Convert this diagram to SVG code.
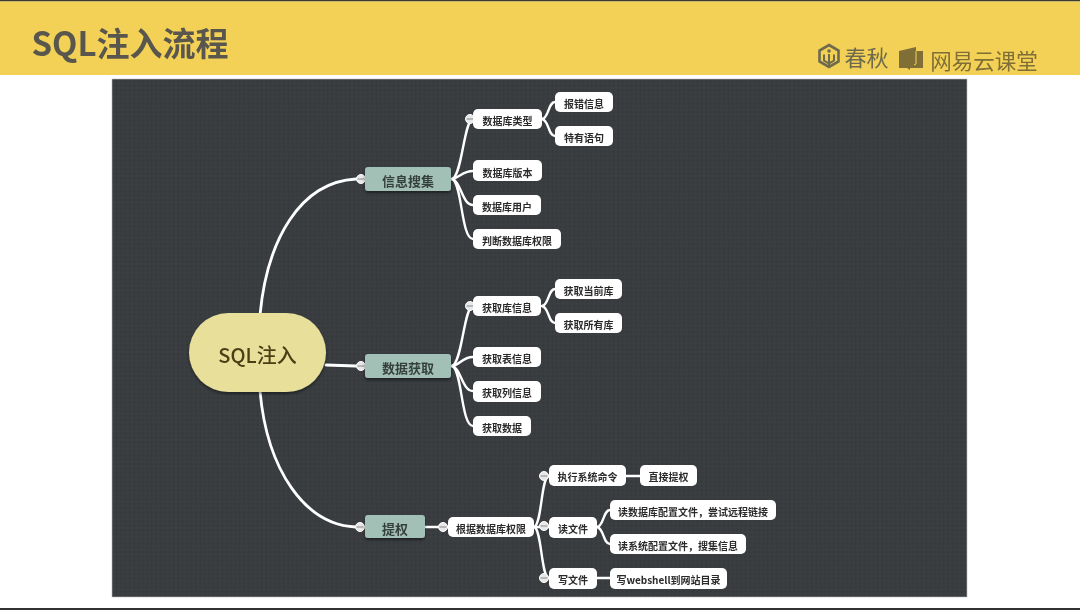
<svg xmlns="http://www.w3.org/2000/svg" width="1080" height="610" viewBox="0 0 1080 610">
<style>
text{font-family:"Noto Sans CJK SC","Noto Sans",sans-serif;text-anchor:middle;dominant-baseline:central}
.leaf rect{fill:#fff}
.leaf text{font-size:10px;fill:#2b2b2b;font-weight:700}
.main rect{fill:#a3c0b7;filter:url(#sh)}
.main text{font-size:13px;fill:#36403d;font-weight:700}
.con path{fill:none;stroke:#fff;stroke-width:2.400;stroke-linecap:round}
.con path.big{stroke-width:2.800}
.col circle{fill:#e8e8e8;stroke:#fff;stroke-width:1}
.col path{stroke:#888;stroke-width:1;fill:none}
</style>
<defs>
<pattern id="dots" width="4.400" height="4.400" patternUnits="userSpaceOnUse"><rect width="4.400" height="4.400" fill="#3a3e41"/><circle cx="2.200" cy="2.200" r="1" fill="#32363a"/></pattern>
<filter id="sh" x="-10%" y="-20%" width="120%" height="150%"><feDropShadow dx="0" dy="2" stdDeviation="1.500" flood-color="#000" flood-opacity=".45"/></filter>
<filter id="soft" x="0" y="0" width="100%" height="100%" filterUnits="userSpaceOnUse" primitiveUnits="userSpaceOnUse"><feGaussianBlur stdDeviation=".45"/></filter>
</defs>
<rect width="1080" height="610" fill="#fff"/>
<g filter="url(#soft)">
<rect width="1080" height="1.500" fill="#3a3a2e"/>
<rect y="1.500" width="1080" height="73.500" fill="#f3d156"/>
<rect y="608" width="1080" height="2" fill="#333"/>
<text x="130" y="42" style="font-size:33px;font-weight:700;fill:#58564d">SQL注入流程</text>
<g id="logo-chunqiu">
<path d="M829 45l9.500 5.500v11l-9.500 5.500-9.500-5.500v-11z" fill="none" stroke="#6f6a4e" stroke-width="2.600"/>
<circle cx="829" cy="51" r="1.800" fill="#6f6a4e"/>
<path d="M829 54v12M824 54.500v6l5 3 5-3v-6" fill="none" stroke="#6f6a4e" stroke-width="2"/>
<text x="866.500" y="56" style="font-size:22px;fill:#6f6a4e">春秋</text>
</g>
<g id="logo-163">
<path d="M899 51l17-4v4h7v17h-13v2l-3-2h-8z" fill="#7f6e35"/>
<path d="M916 51v13l-2 1" fill="none" stroke="#f3d156" stroke-width="1"/>
<text x="984" y="59" style="font-size:21.500px;fill:#7f6e35">网易云课堂</text>
</g>
<rect x="112" y="79" width="855" height="518" fill="url(#dots)" stroke="#bbb" stroke-width=".6"/>
<g id="connectors" class="con">
<path class="big" d="M260 315C267 240 300 182 356 179"/>
<path class="big" d="M326 365L356 366"/>
<path class="big" d="M260 391C267 470 305 525 356 527"/>
<path d="M452 179C462 177 464 119 473 119"/>
<path d="M452 179C460 178 462 171 473 171"/>
<path d="M452 179C461 181 462 205 473 205"/>
<path d="M452 179C462 181 461 239 473 239"/>
<path d="M542 119C549 118 548 102 555 102"/>
<path d="M542 119C549 120 548 136 555 136"/>
<path d="M452 366C462 364 464 306 473 306"/>
<path d="M452 366C460 365 462 357 473 357"/>
<path d="M452 366C461 368 462 391 473 391"/>
<path d="M452 366C462 368 461 426 473 426"/>
<path d="M542 306C549 305 548 289 555 289"/>
<path d="M542 306C549 307 548 323 555 323"/>
<path d="M425 527L448 527"/>
<path d="M534 527C542 525 541 476 549 476"/>
<path d="M534 527L549 527"/>
<path d="M534 527C542 529 541 578 549 578"/>
<path d="M626 476L640 476"/>
<path d="M597 527C604 526 603 510 610 510"/>
<path d="M597 527C604 528 603 544 610 544"/>
<path d="M597 578L610 578"/>
</g>
<g id="collapse" class="col">
<g><circle cx="361" cy="179" r="4.500"/><path d="M357.500 179h7"/></g>
<g><circle cx="361" cy="366" r="4.500"/><path d="M357.500 366h7"/></g>
<g><circle cx="360" cy="527" r="4.500"/><path d="M356.500 527h7"/></g>
<g><circle cx="470" cy="119" r="4.500"/><path d="M466.500 119h7"/></g>
<g><circle cx="470" cy="306" r="4.500"/><path d="M466.500 306h7"/></g>
<g><circle cx="443" cy="527" r="4.500"/><path d="M439.500 527h7"/></g>
<g><circle cx="544" cy="476" r="4.500"/><path d="M540.500 476h7"/></g>
<g><circle cx="544" cy="526" r="4.500"/><path d="M540.500 526h7"/></g>
<g><circle cx="544" cy="578" r="4.500"/><path d="M540.500 578h7"/></g>
</g>
<g id="root"><rect x="189" y="313" width="137" height="79" rx="39.500" fill="#e8df9b" filter="url(#sh)"/><text x="257.500" y="354.500" style="font-size:20px;fill:#4a3f17;font-weight:500">SQL注入</text></g>
<g id="n-info" class="main"><rect x="365" y="167" width="86" height="24" rx="3"/><text x="408" y="180">信息搜集</text></g>
<g id="n-data" class="main"><rect x="365" y="354" width="86" height="24" rx="3"/><text x="408" y="367.500">数据获取</text></g>
<g id="n-priv" class="main"><rect x="365" y="515" width="60" height="23" rx="3"/><text x="395" y="528.500">提权</text></g>
<g id="n1" class="leaf"><rect x="473" y="109" width="69" height="20" rx="5"/><text x="507.500" y="120">数据库类型</text></g>
<g id="n2" class="leaf"><rect x="555" y="92" width="58" height="20" rx="5"/><text x="584" y="103">报错信息</text></g>
<g id="n3" class="leaf"><rect x="555" y="126" width="58" height="20" rx="5"/><text x="584" y="137">特有语句</text></g>
<g id="n4" class="leaf"><rect x="473" y="160" width="69" height="21" rx="5"/><text x="507.500" y="172">数据库版本</text></g>
<g id="n5" class="leaf"><rect x="473" y="195" width="68" height="20" rx="5"/><text x="507" y="206">数据库用户</text></g>
<g id="n6" class="leaf"><rect x="473" y="229" width="88" height="20" rx="5"/><text x="517" y="240">判断数据库权限</text></g>
<g id="n7" class="leaf"><rect x="473" y="296" width="68" height="20" rx="5"/><text x="507" y="307">获取库信息</text></g>
<g id="n8" class="leaf"><rect x="555" y="279" width="67" height="20" rx="5"/><text x="588.500" y="290">获取当前库</text></g>
<g id="n9" class="leaf"><rect x="555" y="313" width="67" height="20" rx="5"/><text x="588.500" y="324">获取所有库</text></g>
<g id="n10" class="leaf"><rect x="473" y="347" width="68" height="20" rx="5"/><text x="507" y="358">获取表信息</text></g>
<g id="n11" class="leaf"><rect x="473" y="381" width="68" height="21" rx="5"/><text x="507" y="392">获取列信息</text></g>
<g id="n12" class="leaf"><rect x="473" y="416" width="58" height="20" rx="5"/><text x="502" y="427">获取数据</text></g>
<g id="n13" class="leaf"><rect x="448" y="517" width="86" height="20" rx="5"/><text x="491" y="528">根据数据库权限</text></g>
<g id="n14" class="leaf"><rect x="549" y="465" width="77" height="21" rx="5"/><text x="587.500" y="476">执行系统命令</text></g>
<g id="n15" class="leaf"><rect x="640" y="465" width="57" height="21" rx="5"/><text x="668.500" y="476">直接提权</text></g>
<g id="n16" class="leaf"><rect x="549" y="517" width="48" height="21" rx="5"/><text x="573" y="528">读文件</text></g>
<g id="n17" class="leaf"><rect x="610" y="500" width="166" height="20" rx="5"/><text x="693" y="511">读数据库配置文件，尝试远程链接</text></g>
<g id="n18" class="leaf"><rect x="610" y="534" width="136" height="20" rx="5"/><text x="678" y="545">读系统配置文件，搜集信息</text></g>
<g id="n19" class="leaf"><rect x="549" y="568" width="48" height="21" rx="5"/><text x="573" y="579">写文件</text></g>
<g id="n20" class="leaf"><rect x="610" y="568" width="117" height="21" rx="5"/><text x="668.500" y="579">写webshell到网站目录</text></g>
</g>
</svg>
